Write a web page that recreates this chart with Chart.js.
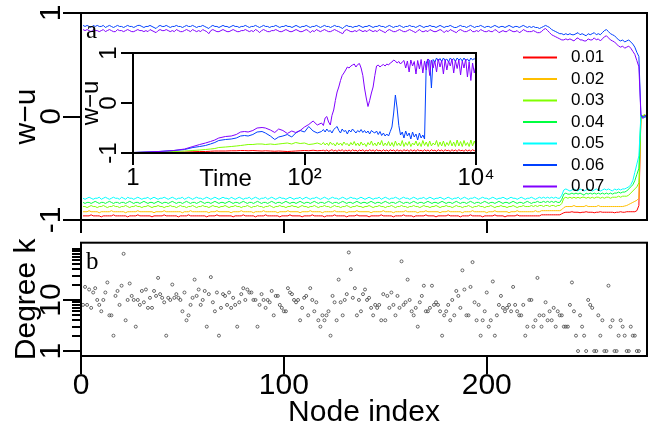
<!DOCTYPE html>
<html>
<head>
<meta charset="utf-8">
<script src="https://cdn.jsdelivr.net/npm/chart.js@4.4.1/dist/chart.umd.min.js"></script>
<style>
html,body{margin:0;padding:0;background:#ffffff;}
#wrap{position:relative;width:654px;height:426px;overflow:hidden;background:#ffffff;}
#wrap canvas{position:absolute;display:block;}
</style>
</head>
<body>
<div id="wrap">
<canvas id="panelA" width="654" height="233" style="left:0;top:0;width:654px;height:233px"></canvas>
<canvas id="panelB" width="654" height="193" style="left:0;top:233px;width:654px;height:193px"></canvas>
<canvas id="inset" width="440" height="160" style="left:60px;top:40px;width:440px;height:160px"></canvas>
</div>
<script>
// ---------- categories ----------
const rateLabels = ['0.01','0.02','0.03','0.04','0.05','0.06','0.07'];
const rateColors = ['#FF0000','#FFBF00','#80FF00','#00FF40','#00FFFF','#0040FF','#8000FF'];

// ---------- panel a: w-u per node (nodes 1..279) ----------
const wuR001 = [
-.96,-.96,-.96,-.96,-.95,-.96,-.96,-.96,-.96,-.97,-.96,-.96,-.96,-.96,-.96,-.95,-.96,-.96,-.96,-.96,
-.96,-.96,-.97,-.96,-.96,-.96,-.96,-.95,-.96,-.96,-.96,-.96,-.96,-.96,-.97,-.96,-.96,-.96,-.96,-.96,
-.95,-.96,-.96,-.96,-.96,-.96,-.96,-.97,-.96,-.96,-.96,-.96,-.95,-.96,-.96,-.96,-.96,-.96,-.96,-.96,
-.96,-.97,-.96,-.96,-.96,-.96,-.95,-.96,-.96,-.96,-.96,-.96,-.96,-.96,-.97,-.96,-.96,-.96,-.96,-.95,
-.96,-.96,-.96,-.96,-.96,-.97,-.96,-.96,-.96,-.96,-.95,-.96,-.96,-.96,-.96,-.96,-.96,-.97,-.96,-.96,
-.96,-.96,-.95,-.96,-.96,-.96,-.96,-.96,-.97,-.96,-.96,-.96,-.96,-.95,-.96,-.96,-.96,-.96,-.96,-.97,
-.96,-.96,-.96,-.96,-.95,-.96,-.96,-.96,-.96,-.96,-.97,-.96,-.96,-.96,-.96,-.95,-.96,-.96,-.96,-.96,
-.96,-.97,-.96,-.96,-.96,-.96,-.96,-.95,-.96,-.96,-.96,-.96,-.96,-.97,-.96,-.96,-.96,-.96,-.95,-.96,
-.96,-.96,-.96,-.97,-.96,-.96,-.96,-.96,-.96,-.95,-.96,-.96,-.96,-.96,-.97,-.96,-.96,-.96,-.96,-.96,
-.95,-.96,-.96,-.96,-.96,-.96,-.97,-.96,-.96,-.96,-.96,-.95,-.96,-.96,-.96,-.96,-.96,-.97,-.96,-.96,
-.96,-.96,-.96,-.95,-.96,-.96,-.96,-.96,-.97,-.96,-.96,-.96,-.96,-.96,-.95,-.96,-.96,-.96,-.96,-.96,
-.96,-.96,-.96,-.96,-.96,-.96,-.95,-.95,-.95,-.95,-.95,-.95,-.95,-.95,-.95,-.95,-.94,-.93,-.925,-.925,
-.925,-.92,-.925,-.925,-.925,-.93,-.925,-.925,-.92,-.925,-.925,-.925,-.93,-.925,-.925,-.92,-.925,-.925,-.925,-.925,
-.925,-.925,-.93,-.925,-.925,-.92,-.925,-.925,-.92,-.92,-.92,-.92,-.92,-.91,-.86,-.01,.00,.01,-.02];
const wuR002 = [
-.92,-.92,-.92,-.91,-.92,-.92,-.92,-.92,-.93,-.92,-.92,-.92,-.92,-.92,-.91,-.92,-.92,-.92,-.92,-.92,
-.92,-.93,-.92,-.92,-.92,-.92,-.92,-.91,-.92,-.92,-.92,-.92,-.92,-.92,-.92,-.93,-.92,-.92,-.92,-.92,
-.91,-.92,-.92,-.92,-.92,-.92,-.92,-.92,-.92,-.93,-.92,-.92,-.92,-.91,-.92,-.92,-.92,-.92,-.92,-.92,
-.92,-.92,-.93,-.92,-.92,-.92,-.91,-.92,-.92,-.92,-.92,-.92,-.92,-.93,-.92,-.92,-.92,-.92,-.91,-.92,
-.92,-.92,-.92,-.92,-.93,-.92,-.92,-.92,-.92,-.91,-.92,-.92,-.92,-.92,-.92,-.92,-.93,-.92,-.92,-.92,
-.92,-.91,-.92,-.92,-.92,-.92,-.92,-.93,-.92,-.92,-.92,-.92,-.91,-.92,-.92,-.92,-.92,-.92,-.93,-.92,
-.92,-.92,-.92,-.92,-.91,-.92,-.92,-.92,-.92,-.92,-.93,-.92,-.92,-.92,-.92,-.91,-.92,-.92,-.92,-.92,
-.92,-.92,-.93,-.92,-.92,-.92,-.92,-.92,-.91,-.92,-.92,-.92,-.92,-.93,-.92,-.92,-.92,-.92,-.92,-.91,
-.92,-.92,-.92,-.92,-.92,-.93,-.92,-.92,-.92,-.91,-.92,-.92,-.92,-.92,-.92,-.92,-.93,-.92,-.92,-.92,
-.91,-.92,-.92,-.92,-.92,-.92,-.92,-.93,-.92,-.92,-.92,-.92,-.91,-.92,-.92,-.92,-.92,-.92,-.92,-.93,
-.92,-.92,-.92,-.91,-.92,-.92,-.92,-.92,-.92,-.92,-.93,-.92,-.92,-.92,-.91,-.92,-.92,-.92,-.92,-.92,
-.92,-.92,-.92,-.91,-.92,-.92,-.91,-.91,-.91,-.91,-.91,-.91,-.91,-.91,-.91,-.91,-.90,-.88,-.87,-.87,
-.87,-.87,-.86,-.87,-.87,-.87,-.87,-.87,-.86,-.87,-.87,-.87,-.87,-.87,-.86,-.87,-.87,-.87,-.87,-.87,
-.87,-.87,-.87,-.87,-.87,-.87,-.87,-.865,-.86,-.85,-.84,-.83,-.82,-.81,-.79,.00,.01,-.01,.01];
const wuR003 = [
-.87,-.87,-.88,-.87,-.86,-.87,-.87,-.88,-.87,-.87,-.86,-.87,-.88,-.87,-.87,-.86,-.87,-.87,-.88,-.87,
-.87,-.86,-.87,-.88,-.87,-.87,-.86,-.87,-.87,-.88,-.87,-.87,-.86,-.87,-.88,-.87,-.87,-.86,-.87,-.87,
-.88,-.87,-.87,-.86,-.87,-.87,-.88,-.87,-.86,-.87,-.87,-.88,-.87,-.87,-.86,-.87,-.88,-.87,-.87,-.86,
-.87,-.87,-.88,-.87,-.86,-.87,-.87,-.88,-.87,-.87,-.86,-.87,-.88,-.87,-.87,-.86,-.87,-.87,-.88,-.87,
-.87,-.86,-.87,-.88,-.87,-.87,-.86,-.87,-.87,-.88,-.87,-.87,-.86,-.87,-.88,-.87,-.87,-.86,-.87,-.87,
-.88,-.87,-.87,-.86,-.87,-.87,-.88,-.87,-.86,-.87,-.87,-.88,-.87,-.87,-.86,-.87,-.88,-.87,-.87,-.86,
-.87,-.87,-.88,-.87,-.86,-.87,-.87,-.88,-.87,-.87,-.86,-.87,-.88,-.87,-.87,-.86,-.87,-.87,-.88,-.87,
-.87,-.86,-.87,-.88,-.87,-.87,-.86,-.87,-.87,-.88,-.87,-.87,-.86,-.87,-.88,-.87,-.87,-.86,-.87,-.87,
-.88,-.87,-.87,-.86,-.87,-.87,-.88,-.87,-.86,-.87,-.87,-.88,-.87,-.87,-.86,-.87,-.88,-.87,-.87,-.86,
-.87,-.87,-.88,-.87,-.86,-.87,-.87,-.88,-.87,-.87,-.86,-.87,-.88,-.87,-.87,-.86,-.87,-.87,-.88,-.87,
-.87,-.86,-.87,-.88,-.87,-.87,-.86,-.87,-.87,-.88,-.87,-.87,-.86,-.87,-.88,-.87,-.87,-.86,-.87,-.87,
-.87,-.86,-.87,-.86,-.87,-.86,-.86,-.87,-.86,-.86,-.87,-.86,-.86,-.87,-.86,-.86,-.84,-.79,-.78,-.79,
-.78,-.79,-.78,-.79,-.78,-.79,-.78,-.78,-.79,-.78,-.79,-.78,-.79,-.78,-.78,-.79,-.78,-.79,-.78,-.78,
-.79,-.78,-.78,-.78,-.77,-.78,-.77,-.77,-.77,-.76,-.74,-.72,-.70,-.68,-.64,-.01,.01,.02,-.01];
const wuR004 = [
-.83,-.84,-.83,-.83,-.84,-.83,-.82,-.83,-.84,-.83,-.83,-.84,-.83,-.82,-.83,-.84,-.83,-.83,-.84,-.83,
-.83,-.84,-.83,-.82,-.83,-.84,-.83,-.83,-.84,-.83,-.82,-.83,-.84,-.83,-.83,-.84,-.83,-.82,-.83,-.84,
-.83,-.83,-.84,-.83,-.82,-.83,-.84,-.83,-.83,-.84,-.83,-.82,-.83,-.84,-.83,-.83,-.84,-.83,-.82,-.83,
-.84,-.83,-.83,-.84,-.83,-.82,-.83,-.84,-.83,-.83,-.84,-.83,-.82,-.83,-.84,-.83,-.83,-.84,-.83,-.82,
-.83,-.84,-.83,-.83,-.84,-.83,-.82,-.83,-.84,-.83,-.83,-.84,-.83,-.82,-.83,-.84,-.83,-.83,-.84,-.83,
-.82,-.83,-.84,-.83,-.83,-.84,-.83,-.82,-.83,-.84,-.83,-.83,-.84,-.83,-.82,-.83,-.84,-.83,-.83,-.84,
-.83,-.82,-.83,-.84,-.83,-.83,-.84,-.83,-.82,-.83,-.84,-.83,-.83,-.84,-.83,-.82,-.83,-.84,-.83,-.83,
-.84,-.83,-.82,-.83,-.84,-.83,-.83,-.84,-.83,-.82,-.83,-.84,-.83,-.83,-.84,-.83,-.82,-.83,-.84,-.83,
-.83,-.84,-.83,-.82,-.83,-.84,-.83,-.83,-.84,-.83,-.82,-.83,-.84,-.83,-.83,-.84,-.83,-.82,-.83,-.84,
-.83,-.83,-.84,-.83,-.82,-.83,-.84,-.83,-.83,-.84,-.83,-.82,-.83,-.84,-.83,-.83,-.84,-.83,-.82,-.83,
-.84,-.83,-.83,-.84,-.83,-.82,-.83,-.84,-.83,-.83,-.84,-.83,-.82,-.83,-.84,-.83,-.83,-.84,-.83,-.82,
-.83,-.84,-.83,-.83,-.82,-.83,-.83,-.82,-.83,-.82,-.83,-.82,-.83,-.82,-.83,-.83,-.80,-.75,-.74,-.75,
-.75,-.74,-.75,-.74,-.75,-.74,-.75,-.76,-.74,-.75,-.74,-.75,-.74,-.75,-.74,-.75,-.74,-.75,-.74,-.75,
-.74,-.75,-.74,-.74,-.73,-.74,-.73,-.73,-.72,-.70,-.68,-.66,-.62,-.56,-.50,.01,.00,-.01,.02];
const wuR005 = [
-.79,-.80,-.79,-.78,-.79,-.80,-.79,-.79,-.78,-.80,-.79,-.78,-.79,-.80,-.79,-.78,-.79,-.79,-.80,-.78,
-.79,-.80,-.78,-.79,-.79,-.80,-.79,-.78,-.79,-.80,-.79,-.79,-.78,-.80,-.79,-.78,-.79,-.80,-.79,-.79,
-.78,-.79,-.80,-.79,-.78,-.79,-.80,-.79,-.79,-.78,-.80,-.79,-.78,-.79,-.80,-.79,-.78,-.79,-.79,-.80,
-.79,-.78,-.79,-.80,-.79,-.78,-.79,-.80,-.79,-.78,-.79,-.79,-.80,-.78,-.79,-.80,-.79,-.78,-.79,-.80,
-.79,-.79,-.78,-.80,-.79,-.78,-.79,-.80,-.79,-.79,-.78,-.80,-.79,-.78,-.79,-.80,-.79,-.78,-.79,-.79,
-.80,-.79,-.78,-.79,-.80,-.79,-.79,-.78,-.80,-.79,-.78,-.79,-.80,-.79,-.79,-.78,-.79,-.80,-.79,-.78,
-.79,-.80,-.79,-.78,-.79,-.79,-.80,-.79,-.78,-.79,-.80,-.79,-.78,-.79,-.79,-.80,-.79,-.78,-.79,-.80,
-.79,-.78,-.79,-.80,-.79,-.79,-.78,-.80,-.79,-.78,-.79,-.80,-.79,-.79,-.78,-.79,-.80,-.79,-.78,-.79,
-.79,-.80,-.79,-.78,-.79,-.80,-.79,-.79,-.78,-.80,-.79,-.78,-.79,-.80,-.79,-.79,-.78,-.79,-.80,-.79,
-.78,-.79,-.80,-.79,-.79,-.78,-.80,-.79,-.78,-.79,-.80,-.79,-.79,-.78,-.79,-.80,-.79,-.78,-.79,-.79,
-.80,-.79,-.78,-.79,-.80,-.79,-.79,-.78,-.79,-.80,-.79,-.78,-.79,-.79,-.80,-.79,-.78,-.79,-.80,-.79,
-.79,-.78,-.79,-.80,-.79,-.78,-.79,-.78,-.79,-.78,-.79,-.78,-.79,-.78,-.79,-.79,-.76,-.71,-.70,-.71,
-.72,-.71,-.70,-.71,-.72,-.70,-.71,-.72,-.71,-.70,-.71,-.72,-.71,-.70,-.71,-.72,-.71,-.70,-.71,-.70,
-.71,-.72,-.70,-.71,-.70,-.71,-.70,-.70,-.69,-.68,-.66,-.62,-.54,-.46,-.38,.02,-.01,.00,-.02];
const wuR006 = [
.88,.87,.88,.87,.86,.88,.87,.88,.87,.87,.88,.86,.87,.88,.87,.86,.87,.88,.87,.87,
.86,.87,.88,.87,.87,.86,.87,.88,.88,.87,.86,.87,.87,.88,.87,.86,.85,.87,.88,.87,
.87,.88,.87,.86,.87,.87,.88,.87,.87,.86,.87,.88,.87,.87,.88,.87,.86,.87,.87,.88,
.87,.86,.85,.87,.88,.87,.87,.86,.87,.88,.87,.87,.86,.87,.88,.87,.87,.86,.87,.87,
.88,.87,.86,.87,.87,.88,.87,.86,.87,.88,.87,.87,.86,.87,.87,.88,.87,.86,.87,.87,
.88,.87,.87,.86,.87,.88,.87,.86,.87,.87,.88,.87,.86,.87,.87,.88,.87,.86,.87,.88,
.87,.87,.86,.87,.88,.87,.87,.86,.85,.87,.88,.87,.87,.86,.87,.87,.88,.87,.86,.87,
.87,.88,.87,.86,.87,.87,.88,.87,.87,.86,.87,.88,.87,.86,.87,.87,.88,.87,.86,.87,
.87,.88,.87,.87,.86,.87,.88,.87,.86,.87,.87,.88,.87,.87,.86,.87,.88,.87,.86,.87,
.87,.88,.87,.86,.86,.87,.88,.87,.87,.86,.87,.88,.87,.86,.87,.87,.88,.87,.86,.87,
.87,.86,.87,.88,.87,.86,.87,.87,.86,.87,.88,.87,.86,.87,.87,.86,.87,.88,.87,.86,
.87,.86,.87,.86,.86,.85,.86,.87,.88,.87,.86,.84,.83,.82,.81,.80,.80,.79,.80,.79,
.80,.79,.79,.80,.81,.79,.80,.79,.78,.80,.79,.80,.81,.79,.80,.79,.81,.83,.84,.82,
.80,.79,.78,.76,.74,.73,.74,.72,.73,.74,.72,.70,.67,.62,.58,.02,-.01,.01,0];
const wuR007 = [
.84,.83,.84,.83,.82,.84,.83,.83,.82,.83,.84,.82,.83,.84,.83,.82,.82,.84,.83,.83,
.82,.83,.84,.83,.82,.82,.83,.84,.83,.83,.82,.83,.82,.84,.83,.82,.81,.83,.84,.83,
.83,.84,.83,.82,.83,.82,.84,.83,.82,.82,.83,.84,.83,.82,.84,.83,.82,.83,.82,.84,
.83,.82,.80,.83,.84,.83,.82,.82,.83,.84,.83,.82,.82,.83,.84,.83,.82,.82,.83,.83,
.84,.83,.82,.83,.82,.84,.83,.81,.83,.84,.83,.82,.82,.83,.83,.84,.83,.82,.82,.83,
.84,.83,.82,.82,.83,.84,.83,.82,.82,.83,.84,.83,.81,.83,.82,.84,.83,.82,.83,.84,
.83,.82,.82,.83,.84,.83,.82,.81,.80,.83,.84,.83,.82,.82,.83,.82,.84,.83,.82,.83,
.82,.84,.83,.82,.83,.82,.84,.83,.82,.81,.83,.84,.83,.82,.82,.83,.84,.83,.82,.82,
.83,.84,.83,.82,.81,.83,.84,.82,.82,.83,.82,.84,.83,.82,.82,.83,.84,.83,.81,.83,
.82,.84,.83,.82,.81,.83,.84,.83,.82,.82,.83,.84,.82,.82,.83,.82,.84,.83,.82,.82,
.83,.82,.82,.84,.83,.81,.82,.83,.82,.82,.84,.83,.82,.82,.83,.81,.82,.84,.83,.82,
.82,.82,.83,.82,.81,.81,.82,.84,.85,.83,.81,.79,.78,.77,.76,.75,.74,.74,.75,.74,
.75,.74,.73,.75,.76,.74,.74,.73,.73,.75,.74,.74,.76,.74,.75,.73,.75,.77,.78,.76,
.74,.73,.72,.70,.68,.67,.68,.66,.67,.68,.66,.63,.60,.54,.48,.01,-.02,.00,.01];

// ---------- panel b: degree k per node (null = degree 0, not drawn on log axis) ----------
const degreeK = [
8,18,8,16,7,14,17,10,8,6,10,14,22,5,5,2,12,15,8,19,
80,4,10,21,12,10,3,10,8,15,9,16,7,11,7,15,12,27,13,11,
9,2,11,10,20,11,13,11,10,6,14,4,5,8,11,25,12,16,8,10,
15,3,13,28,9,6,14,2,7,13,12,8,14,7,11,8,3,9,13,17,
10,16,14,14,10,10,3,8,13,10,7,10,9,15,5,12,12,8,7,6,
6,17,14,13,10,9,10,4,7,11,12,5,17,10,6,9,4,3,5,4,
5,6,2,12,9,4,25,9,5,10,13,85,40,11,17,5,10,6,13,16,
10,11,7,5,8,7,8,4,13,4,12,7,14,8,5,12,7,57,8,9,
25,10,6,5,7,3,9,12,19,6,6,7,19,8,9,8,6,2,5,6,
8,4,10,5,15,12,7,38,16,5,5,18,55,9,4,8,2,4,6,14,
3,4,23,2,5,8,12,7,6,7,8,6,18,8,6,5,5,8,2,3,
10,10,3,4,27,5,3,5,9,4,6,4,7,3,6,5,5,3,3,3,
8,22,6,2,1,5,3,2,1,10,8,7,1,1,5,2,4,1,1,19,
3,4,1,1,2,4,3,2,1,1,3,2,2,1,1,null,null,null,null];

// ---------- inset: w-u against time ----------
const timeSteps = [
1,2,3,4,5,6,7,8,9,10,12,14,16,18,20,22,25,28,32,35,40,45,50,56,63,71,79,89,100,112,126,141,158,
166,174,182,191,200,209,219,229,240,251,
263,275,288,302,316,331,347,363,380,398,
417,437,457,479,501,525,550,575,603,631,
661,692,724,759,794,832,871,912,955,1000,
1047,1096,1148,1202,1259,1318,1380,1445,1514,1585,
1660,1738,1820,1905,1995,2089,2188,2291,2399,2512,
2630,2754,2884,3020,3162,3311,3467,3631,3802,3981,
4169,4365,4571,4786,5012,5248,5495,5754,6026,6310,
6607,6918,7244,7586,7943,8318,8710,9120,9550,10000];
const insetRates = ['0.01','0.03','0.06','0.07'];
const wuT001 = [
-1,-.99,-.985,-.98,-.975,-.97,-.97,-.965,-.96,-.96,-.96,-.955,-.955,-.95,-.95,-.955,-.95,-.955,-.96,-.955,-.96,-.965,-.96,-.965,-.97,-.965,-.96,-.955,-.95,-.955,-.945,-.955,-.95,
-.945,-.96,-.94,-.965,-.95,-.935,-.96,-.945,-.965,-.94,
-.955,-.935,-.965,-.945,-.96,-.94,-.965,-.935,-.955,-.945,
-.965,-.94,-.955,-.935,-.965,-.945,-.96,-.935,-.955,-.94,
-.965,-.935,-.955,-.945,-.965,-.935,-.96,-.94,-.965,-.935,
-.955,-.94,-.965,-.935,-.96,-.945,-.965,-.935,-.955,-.94,
-.965,-.935,-.96,-.94,-.965,-.935,-.955,-.945,-.965,-.935,
-.96,-.94,-.965,-.935,-.955,-.945,-.965,-.935,-.96,-.94,
-.965,-.935,-.955,-.945,-.965,-.935,-.96,-.94,-.965,-.935,
-.955,-.945,-.965,-.935,-.96,-.94,-.965,-.935,-.955,-.94];
const wuT003 = [
-.99,-.98,-.97,-.96,-.95,-.94,-.93,-.92,-.91,-.89,-.88,-.87,-.86,-.85,-.84,-.83,-.83,-.82,-.82,-.83,-.82,-.83,-.82,-.81,-.80,-.82,-.79,-.81,-.80,-.83,-.82,-.80,-.83,
-.79,-.84,-.80,-.85,-.78,-.83,-.81,-.86,-.79,-.84,
-.80,-.85,-.78,-.83,-.81,-.86,-.79,-.84,-.77,-.85,
-.80,-.86,-.78,-.84,-.81,-.87,-.79,-.84,-.76,-.85,
-.80,-.86,-.78,-.84,-.75,-.86,-.80,-.85,-.77,-.86,
-.79,-.87,-.76,-.85,-.80,-.86,-.75,-.87,-.79,-.85,
-.77,-.87,-.80,-.84,-.76,-.86,-.79,-.87,-.75,-.85,
-.78,-.87,-.76,-.86,-.80,-.84,-.75,-.87,-.78,-.86,
-.76,-.87,-.79,-.85,-.75,-.86,-.78,-.87,-.74,-.86,
-.77,-.87,-.75,-.85,-.79,-.87,-.74,-.86,-.76,-.85];
const wuT006 = [
-.99,-.97,-.95,-.93,-.89,-.87,-.85,-.82,-.79,-.75,-.73,-.72,-.70,-.66,-.65,-.66,-.63,-.58,-.57,-.60,-.66,-.73,-.68,-.66,-.63,-.68,-.60,-.55,-.58,-.47,-.56,-.60,-.57,
-.53,-.58,-.52,-.57,-.55,-.60,-.53,-.50,-.47,-.55,
-.60,-.52,-.57,-.55,-.62,-.54,-.58,-.52,-.56,-.60,
-.55,-.58,-.53,-.59,-.55,-.60,-.56,-.62,-.55,-.58,
-.60,-.56,-.63,-.57,-.65,-.60,-.66,-.62,-.66,-.57,
-.48,-.20,.16,-.10,-.45,-.64,-.58,-.70,-.56,-.66,
-.60,-.72,-.58,-.68,-.62,-.74,-.60,-.70,-.64,-.72,
.80,.88,.85,.30,.87,.82,.90,.84,.89,.83,
.90,.85,.88,.82,.90,.86,.89,.83,.90,.86,
.89,.84,.90,.85,.88,.83,.90,.86,.89,.85];
const wuT007 = [
-.99,-.97,-.95,-.92,-.87,-.83,-.80,-.77,-.74,-.70,-.67,-.66,-.63,-.58,-.57,-.58,-.55,-.50,-.49,-.50,-.54,-.59,-.52,-.55,-.61,-.56,-.59,-.55,-.48,-.43,-.36,-.44,-.40,
-.45,-.30,-.27,-.38,-.44,-.25,-.14,.05,.22,.32,
.45,.55,.60,.66,.72,.70,.74,.76,.78,.72,
.77,.79,.70,.55,.30,.10,-.07,.05,.20,.32,
.55,.74,.76,.72,.75,.77,.74,.78,.76,.80,
.82,.86,.84,.80,.83,.78,.82,.85,.70,.84,
.62,.86,.74,.83,.58,.85,.68,.87,.60,.84,
.66,.88,.55,.86,.70,.84,.62,.88,.72,.85,
.58,.87,.66,.84,.74,.88,.60,.85,.69,.86,
.56,.84,.70,.88,.52,.82,.45,.80,.60,.76];

// ---------- ticks ----------
const nodeTicks = [0,100,200];
const nodeTickLabels = ['0','100','200'];
const wuTicks = [-1,0,1];
const wuTickLabels = ['-1','0','1'];
const degreeMajorTicks = [1,10];
const degreeMajorLabels = ['1','10'];
const degreeMinorTicks = [2,3,4,5,6,7,8,9,20,30,40,50,60,70,80,90,100];
const timeTicks = [1,100,10000];
const timeTickLabels = ['1','10\u00B2','10\u2074'];

// ---------- helpers ----------
const SANS = '"Liberation Sans", Arial, Helvetica, sans-serif';
const SERIF = '"Liberation Serif", "Times New Roman", serif';
Chart.defaults.font.family = SANS;
Chart.defaults.color = '#000';

function fixedTicks(list){ return s => { s.ticks = list.map(v => ({value: v})); }; }
function blackGrid(len){
  return {display:true, drawOnChartArea:false, drawTicks:true, tickLength:len,
          color:'#000', tickColor:'#000', lineWidth:2, tickWidth:2};
}
const blackBorder = {display:true, color:'#000', width:2};

const frame = {
  id:'frame',
  afterDraw(chart){
    const a = chart.chartArea, ctx = chart.ctx;
    ctx.save(); ctx.strokeStyle = '#000'; ctx.lineWidth = 2;
    ctx.strokeRect(a.left, a.top, a.right - a.left, a.bottom - a.top);
    ctx.restore();
  }
};
const panelTag = {
  id:'panelTag',
  afterDraw(chart, args, o){
    const a = chart.chartArea, ctx = chart.ctx;
    ctx.save(); ctx.font = '25px ' + SERIF; ctx.fillStyle = '#000';
    ctx.textAlign = 'left'; ctx.textBaseline = 'alphabetic';
    ctx.fillText(o.text, a.left + o.dx, a.top + o.dy);
    ctx.restore();
  }
};
const rateLegend = {
  id:'rateLegend',
  afterDraw(chart, args, o){
    const a = chart.chartArea, ctx = chart.ctx;
    ctx.save(); ctx.font = '17px ' + SANS; ctx.textAlign = 'left'; ctx.textBaseline = 'middle';
    chart.data.datasets.forEach((ds, i) => {
      const y = a.top + o.top + o.step * i;
      ctx.strokeStyle = ds.borderColor; ctx.lineWidth = 2;
      ctx.beginPath(); ctx.moveTo(a.right - o.lineFrom, y); ctx.lineTo(a.right - o.lineTo, y); ctx.stroke();
      ctx.fillStyle = '#000'; ctx.fillText(ds.label, a.right - o.textAt, y);
    });
    ctx.restore();
  }
};
const axisNote = {
  id:'axisNote',
  afterDraw(chart, args, o){
    const ctx = chart.ctx, s = chart.scales.x;
    ctx.save(); ctx.font = '24px ' + SANS; ctx.fillStyle = '#000';
    ctx.textAlign = 'center'; ctx.textBaseline = 'alphabetic';
    ctx.fillText(o.text, s.getPixelForValue(o.at), chart.chartArea.bottom + o.dy);
    ctx.restore();
  }
};

// ---------- panel a ----------
const topSeries = [wuR001, wuR002, wuR003, wuR004, wuR005, wuR006, wuR007];
new Chart(document.getElementById('panelA'), {
  type:'line',
  data:{datasets: topSeries.map((vals, i) => ({
    label: rateLabels[i],
    data: vals.map((v, j) => ({x: j + 1, y: v})),
    borderColor: rateColors[i], backgroundColor: rateColors[i],
    borderWidth: 1, pointRadius: 0, fill: false, tension: 0,
    order: topSeries.length - i
  }))},
  options:{
    responsive:false, maintainAspectRatio:false, animation:false, devicePixelRatio:1,
    layout:{padding:{left:0, top:10, right:7, bottom:0}},
    plugins:{legend:{display:false}, tooltip:{enabled:false},
      panelTag:{text:'a', dx:5, dy:25},
      rateLegend:{top:44.5, step:21.5, lineFrom:124, lineTo:90, textAt:76}},
    scales:{
      x:{type:'linear', bounds:'data', min:0, max:279, afterBuildTicks:fixedTicks(nodeTicks),
         ticks:{display:false}, grid:blackGrid(18), border:blackBorder,
         afterFit:s => { s.height = 7; }},
      y:{type:'linear', bounds:'data', min:-1, max:1, afterBuildTicks:fixedTicks(wuTicks),
         ticks:{autoSkip:false, minRotation:90, maxRotation:90, crossAlign:'center', padding:-2,
                font:{size:30, lineHeight:1}, callback:(v, i) => wuTickLabels[i]},
         grid:blackGrid(18), border:blackBorder,
         title:{display:true, text:'w\u2212u', font:{size:30, lineHeight:1}, padding:{top:11.6, bottom:0}},
         afterFit:s => { s.width = 81; }}
    }
  },
  plugins:[frame, panelTag, rateLegend]
});

// ---------- panel b ----------
new Chart(document.getElementById('panelB'), {
  type:'scatter',
  data:{datasets:[{
    label:'Degree k',
    data: degreeK.map((k, i) => ({x: i + 1, y: k})).filter(p => p.y !== null),
    pointStyle:'circle', pointRadius:1.5, pointBorderWidth:0.8,
    borderColor:'#444', backgroundColor:'rgba(0,0,0,0)'
  }]},
  options:{
    responsive:false, maintainAspectRatio:false, animation:false, devicePixelRatio:1,
    layout:{padding:{left:0, top:1, right:7, bottom:0}},
    plugins:{legend:{display:false}, tooltip:{enabled:false}, panelTag:{text:'b', dx:5, dy:26}},
    scales:{
      x:{type:'linear', bounds:'data', min:0, max:279, afterBuildTicks:fixedTicks(nodeTicks),
         ticks:{autoSkip:false, maxRotation:0, minRotation:0, padding:-3,
                font:{size:30, lineHeight:1}, callback:(v, i) => nodeTickLabels[i]},
         grid:blackGrid(18), border:blackBorder,
         title:{display:true, text:'Node index', font:{size:30, lineHeight:1}, padding:{top:0, bottom:-2}},
         afterFit:s => { s.height = 70; }},
      y:{type:'logarithmic', position:'left', weight:1, bounds:'data', min:0.8, max:132,
         afterBuildTicks:fixedTicks(degreeMajorTicks),
         ticks:{autoSkip:false, minRotation:90, maxRotation:90, crossAlign:'center', padding:-5.3,
                font:{size:30, lineHeight:1}, callback:(v, i) => degreeMajorLabels[i]},
         grid:blackGrid(18), border:blackBorder,
         title:{display:true, text:'Degree k', font:{size:30, lineHeight:1}, padding:{top:11.6, bottom:0}},
         afterFit:s => { s.width = 81; }},
      yMinor:{type:'logarithmic', position:'left', weight:0, bounds:'data', min:0.8, max:132,
         afterBuildTicks:fixedTicks(degreeMinorTicks),
         ticks:{display:false}, grid:blackGrid(9), border:{display:false},
         afterFit:s => { s.width = 0; }}
    }
  },
  plugins:[frame, panelTag]
});

// ---------- inset ----------
const insetValues = [wuT001, wuT003, wuT006, wuT007];
new Chart(document.getElementById('inset'), {
  type:'line',
  data:{datasets: insetValues.map((vals, i) => ({
    label: insetRates[i],
    data: vals.map((v, j) => ({x: timeSteps[j], y: v})),
    borderColor: rateColors[rateLabels.indexOf(insetRates[i])],
    borderWidth: 1, pointRadius: 0, fill: false, tension: 0,
    order: insetValues.length - i
  }))},
  options:{
    responsive:false, maintainAspectRatio:false, animation:false, devicePixelRatio:1,
    layout:{padding:{left:0, top:13, right:24, bottom:0}},
    plugins:{legend:{display:false}, tooltip:{enabled:false}, axisNote:{text:'Time', at:12, dy:33}},
    scales:{
      x:{type:'logarithmic', bounds:'data', min:1, max:10000, afterBuildTicks:fixedTicks(timeTicks),
         ticks:{autoSkip:false, maxRotation:0, minRotation:0, padding:1,
                font:{size:24, lineHeight:1}, callback:(v, i) => timeTickLabels[i]},
         grid:blackGrid(12), border:blackBorder,
         afterFit:s => { s.height = 47; }},
      y:{type:'linear', bounds:'data', min:-1, max:1, afterBuildTicks:fixedTicks(wuTicks),
         ticks:{autoSkip:false, minRotation:90, maxRotation:90, crossAlign:'center', padding:1,
                font:{size:24, lineHeight:1}, callback:(v, i) => wuTickLabels[i]},
         grid:blackGrid(12), border:blackBorder,
         title:{display:true, text:'w\u2212u', font:{size:24, lineHeight:1}, padding:{top:19.7, bottom:0}},
         afterFit:s => { s.width = 73; }}
    }
  },
  plugins:[frame, axisNote]
});
</script>
</body>
</html>
